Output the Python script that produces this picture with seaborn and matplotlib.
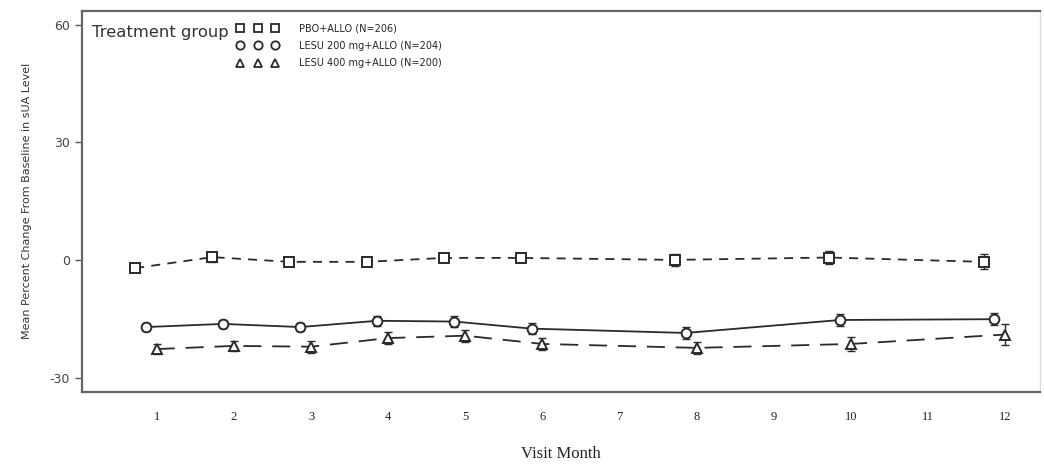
import numpy as np
import pandas as pd
import matplotlib
matplotlib.use("Agg")
import matplotlib.pyplot as plt
import seaborn as sns
from matplotlib.lines import Line2D

months = [1, 2, 3, 4, 5, 6, 8, 10, 12]
groups = ["PBO+ALLO (N=206)", "LESU 200 mg+ALLO (N=204)", "LESU 400 mg+ALLO (N=200)"]
pbo_mean = [-2.0, 0.8, -0.4, -0.4, 0.6, 0.6, 0.1, 0.7, -0.4]
l200_mean = [-17.0, -16.2, -17.0, -15.4, -15.6, -17.4, -18.5, -15.2, -15.0]
l400_mean = [-22.6, -21.8, -22.0, -19.8, -19.2, -21.3, -22.3, -21.3, -18.9]
pbo_se = [0.8, 1.2, 1.1, 1.1, 1.1, 1.1, 1.5, 1.6, 1.9]
l200_se = [1.0, 1.1, 1.1, 1.3, 1.3, 1.4, 1.5, 1.6, 1.5]
l400_se = [1.2, 1.3, 1.5, 1.5, 1.5, 1.5, 1.5, 1.8, 2.6]
xticks = list(range(1, 13))
yticks = [-30, 0, 30, 60]

means = [pbo_mean, l200_mean, l400_mean]
ses = [pbo_se, l200_se, l400_se]
offsets = [-0.28, -0.14, 0.0]
markers = ["s", "o", "^"]
dashes = [(5, 4), "", (10, 6)]
col = "#2a2a2a"

rows = []
for g, m, s, off in zip(groups, means, ses, offsets):
    for mo, v, e in zip(months, m, s):
        rows.append({"group": g, "x": mo + off, "mean": v, "se": e})
df = pd.DataFrame(rows)

sns.set_style("white")
plt.rcParams["font.family"] = ["DejaVu Sans"]
fig = plt.figure(figsize=(10.44, 4.71), dpi=100)
ax = fig.add_axes([0.0785, 0.168, 0.9175, 0.809])

sns.lineplot(data=df, x="x", y="mean", hue="group", style="group",
             palette=[col, col, col], markers=dict(zip(groups, markers)),
             dashes=dict(zip(groups, dashes)), markersize=7,
             markerfacecolor="white", markeredgecolor=col, markeredgewidth=1.4,
             linewidth=1.3, ax=ax, legend=False, errorbar=None)
for g in groups:
    sub = df[df.group == g]
    ax.errorbar(sub["x"], sub["mean"], yerr=sub["se"], fmt="none",
                ecolor=col, elinewidth=1.0, capsize=3, capthick=1.0, zorder=1)

ax.set_xlim(0.03, 12.45)
ax.set_ylim(-33.5, 63.5)
ax.set_xticks(xticks)
ax.set_xticklabels([str(t) for t in xticks], family="Liberation Serif", fontsize=9, color="#222")
ax.set_yticks(yticks)
ax.set_yticklabels([str(t) for t in yticks], fontsize=9, color="#444")
ax.tick_params(axis="y", length=5, width=1, color="#555", direction="out", left=True)
ax.tick_params(axis="x", length=0, pad=14)
for side in ["left", "bottom", "top"]:
    ax.spines[side].set_color("#666")
    ax.spines[side].set_linewidth(1.6)
ax.spines["right"].set_color("#ddd")
ax.spines["right"].set_linewidth(1.0)

ax.set_xlabel("Visit Month", family="Liberation Serif", fontsize=12, color="#222", labelpad=16)
ax.set_ylabel("Mean Percent Change From Baseline in sUA Level", fontsize=8, color="#333", labelpad=13)

handles = [Line2D([0], [0], linestyle="none", marker=mk, markersize=6,
                  markerfacecolor="white", markeredgecolor=col, markeredgewidth=1.3)
           for mk in markers]
ax.text(0.011, 0.944, "Treatment group", transform=ax.transAxes, fontsize=11.8,
        color="#333", va="center", ha="left")
ax.legend(handles, groups, numpoints=3, frameon=False, loc="upper left",
          bbox_to_anchor=(0.155, 0.985), fontsize=7, handlelength=4.2,
          handletextpad=2.2, labelspacing=0.75, borderaxespad=0.3)

fig.savefig("out.png", dpi=100)
